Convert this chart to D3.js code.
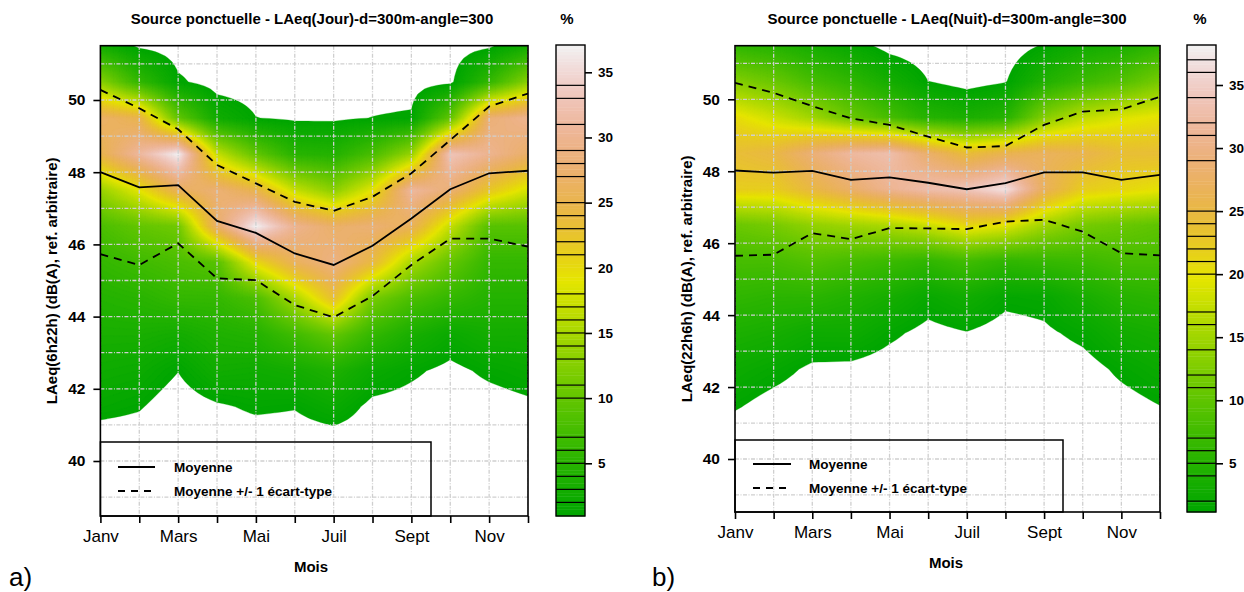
<!DOCTYPE html>
<html><head><meta charset="utf-8">
<script src="https://cdn.jsdelivr.net/npm/d3@7"></script>
<style>
body{margin:0;background:#fff;}
svg{display:block;}
text{font-family:"Liberation Sans", Arial, Helvetica, sans-serif;}
</style></head><body>
<svg id="chart" width="1244" height="592"></svg>
<script>
// ---------------- DATA ----------------
const moisNum = [1,2,3,4,5,6,7,8,9,10,11,12];
const moisLabels = ["Janv","","Mars","","Mai","","Juil","","Sept","","Nov",""];
const classesDB = [40.5,41.5,42.5,43.5,44.5,45.5,46.5,47.5,48.5,49.5,50.5,51.5];
const graduationsY = [40,42,44,46,48,50];
const grilleY = [39,40,41,42,43,44,45,46,47,48,49,50,51];
const graduationsCle = [5,10,15,20,25,30,35];

const moyenneJour   = [48.00,47.58,47.64,46.65,46.32,45.75,45.43,45.96,46.72,47.53,47.97,48.04];
const plusEcartJour = [50.28,49.77,49.19,48.20,47.69,47.18,46.93,47.32,47.97,48.89,49.82,50.18];
const moinsEcartJour= [45.73,45.43,46.03,45.06,45.01,44.32,43.98,44.57,45.43,46.16,46.16,45.94];

const moyenneNuit   = [48.02,47.96,48.01,47.76,47.83,47.68,47.50,47.67,47.97,47.97,47.76,47.90];
const plusEcartNuit = [50.46,50.18,49.81,49.47,49.29,48.96,48.66,48.70,49.29,49.66,49.72,50.07];
const moinsEcartNuit= [45.65,45.68,46.28,46.11,46.42,46.41,46.39,46.60,46.65,46.32,45.72,45.66];

// % per 1-dB class (classesDB), one row per month
const densiteJour = [
  [0,1.5,2.5,3.5,4.5,6,8,14,25,27,13,3],
  [0,1.1,2.2,3.5,5,7,10,19,31,25,6,0.6],
  [0,0,1.0,3,6,8,11,26,37,10,1.3,0],
  [0,0.7,2.8,4,6,9,27,28,17,2.75,0,0],
  [0,1.24,2.5,4.5,8,20,37,25,10,1.0,0,0],
  [0,1.05,3,7,15,26,30,17,5,0.6,0,0],
  [0,2.0,4,10,23,29,27,13,4.5,0.6,0,0],
  [0,0.5,2.1,6,11.5,24,28,19,8,1.0,0,0],
  [0,0.3,1.25,3.5,8,15,26,31,14,1.25,0,0],
  [0,0,0.5,2,6,10,17,28,33,10,0.5,0],
  [0,0.2,1.3,3,4.5,6,9,22,30,28,6,0.6],
  [0,0.6,1.8,3,4.5,6,9,18,27,30,13,3]
];
const densiteNuit = [
  [0,1.35,2.5,4,6,8,11,22,24,20.5,13,6],
  [0,0.5,1.8,3.5,5.5,8,12,22,25,18,11,5],
  [0,0,0.8,2.6,5.5,9,14,25,29,15,8,3.5],
  [0,0,0.7,2.7,4.5,8,15,28,32,11,6,2.0],
  [0,0,0.3,1.5,3.5,7,16,31,33,8,3.4,0.4],
  [0,0,0,0.6,2.0,6,18,33,28,5,1.15,0],
  [0,0,0,1.05,3,7.5,21,34,24,4,0.3,0],
  [0,0,0,0.4,1.6,6,19.5,37,26,5,1.0,0],
  [0,0,0,0.8,1.8,6.5,15,27,27,13,4.5,1.3],
  [0,0,0.4,1.6,3.5,7,12,22,26,17,7,3],
  [0,0.5,1.5,3,5,8,11,21,24,19,9,4],
  [0,1.15,2.3,3.5,5.5,8,10,20,24,20,12,6]
];
const traitsCleJour = [2,3,4,5,6,7,10,11,13,14,15,16,17,18,21,22,23,24,25,27,28,29,31,33,34];
const traitsCleNuit = [2,4,5,6,7,11,12,14,16,17,20,21,22,23,24,25,29,31,32,34,36,37];

const titres = ["Source ponctuelle - LAeq(Jour)-d=300m-angle=300","Source ponctuelle - LAeq(Nuit)-d=300m-angle=300"];
const titresY = ["LAeq(6h22h) (dB(A), ref. arbitraire)","LAeq(22h6h) (dB(A), ref. arbitraire)"];
const legendeTextes = ["Moyenne","Moyenne +/- 1 écart-type"];
const lettres = ["a)","b)"];

// ---------------- LAYOUT ----------------
const panels = [
  {x1:100.4,x12:528, y40:461, y50:100, top:45.7, bottom:516,
   cbX:556, cbW:29, cbTop:45, cbBot:516, cb5:463.3, cb35:72.3,
   titleX:312, pctX:567, ylabX:57, mois:[311,572], lettre:[9,586],
   leg:{right:431, top:442, lx0:118, lx1:155, ly:[467,491], tx:174},
   dens:densiteJour, moy:moyenneJour, plus:plusEcartJour, moins:moinsEcartJour,
   traits:traitsCleJour},
  {x1:735, x12:1160, y40:459, y50:99.3, top:45.7, bottom:512,
   cbX:1187, cbW:29, cbTop:45, cbBot:512, cb5:463.3, cb35:85,
   titleX:947, pctX:1200, ylabX:692, mois:[946,568], lettre:[652,586],
   leg:{right:1063, top:440, lx0:753, lx1:791, ly:[464,488], tx:809},
   dens:densiteNuit, moy:moyenneNuit, plus:plusEcartNuit, moins:moinsEcartNuit,
   traits:traitsCleNuit}
];

function hsv(h,s,v){
  const i=Math.floor(h*6), f=h*6-i, p=v*(1-s), q=v*(1-f*s), t=v*(1-(1-f)*s);
  let r,g,b;
  switch(((i%6)+6)%6){case 0:r=v;g=t;b=p;break;case 1:r=q;g=v;b=p;break;case 2:r=p;g=v;b=t;break;
    case 3:r=p;g=q;b=v;break;case 4:r=t;g=p;b=v;break;default:r=v;g=p;b=q;}
  return d3.rgb(r*255,g*255,b*255).formatHex();
}
function terrain(t){
  if(t<=0.5){const u=t/0.5;return hsv(4/12-2/12*u,1,0.65+0.25*u);}
  const u=(t-0.5)/0.5;return hsv(2/12*(1-u),1-u,0.9+0.05*u);
}

const svg = d3.select("#chart");
const NLEV = 144;
const F = 6;

panels.forEach((P,pi)=>{
  const g = svg.append("g");
  const xS = d3.scaleLinear().domain([1,12]).range([P.x1,P.x12]);
  const yS = d3.scaleLinear().domain([40,50]).range([P.y40,P.y50]);
  const cS = d3.scaleLinear().domain([5,35]).range([P.cb5,P.cb35]);
  const vmin = cS.invert(P.cbBot), vmax = cS.invert(P.cbTop);
  const step = (vmax-vmin)/NLEV;
  const thr = d3.range(NLEV).map(k=>vmin+k*step);
  const col = k=>terrain((k+0.5)/NLEV);

  const clipId = "clip"+pi;
  svg.append("clipPath").attr("id",clipId).append("rect")
    .attr("x",P.x1).attr("y",P.top).attr("width",P.x12-P.x1).attr("height",P.bottom-P.top);

  // bilinear grid for rendering
  const nm = moisNum.length, nb = classesDB.length;
  const nx=(nm-1)*F+1, ny=(nb-1)*F+1;
  const vals = new Array(nx*ny);
  for(let j=0;j<ny;j++){
    const bj=j/F, j0=Math.min(Math.floor(bj),nb-2), fy=bj-j0;
    for(let i=0;i<nx;i++){
      const mi=i/F, i0=Math.min(Math.floor(mi),nm-2), fx=mi-i0;
      const D=P.dens;
      vals[j*nx+i]=(1-fx)*(1-fy)*D[i0][j0]+fx*(1-fy)*D[i0+1][j0]+(1-fx)*fy*D[i0][j0+1]+fx*fy*D[i0+1][j0+1];
    }
  }
  const contours = d3.contours().size([nx,ny]).thresholds(thr)(vals);
  const proj = d3.geoTransform({point:function(x,y){
    this.stream.point(xS(moisNum[0]+(x-0.5)/F), yS(classesDB[0]+(y-0.5)/F));}});
  const path = d3.geoPath(proj);
  const fillG = g.append("g").attr("clip-path",`url(#${clipId})`);
  fillG.selectAll("path").data(contours).join("path")
    .attr("d",path).attr("fill",(d,k)=>col(k)).attr("stroke",(d,k)=>col(k)).attr("stroke-width",0.3);

  // grid
  const gridG = g.append("g").attr("clip-path",`url(#${clipId})`)
    .attr("stroke","#cfcfcf").attr("stroke-width",1.3).attr("stroke-dasharray","4,1.5,1,1.5");
  gridG.selectAll("line.v").data(moisNum).join("line").attr("class","v")
    .attr("x1",d=>xS(d)).attr("x2",d=>xS(d)).attr("y1",P.top).attr("y2",P.bottom);
  gridG.selectAll("line.h").data(grilleY).join("line").attr("class","h")
    .attr("x1",P.x1).attr("x2",P.x12).attr("y1",d=>yS(d)).attr("y2",d=>yS(d));

  // lines
  const line = d3.line().x((d,i)=>xS(moisNum[i])).y(d=>yS(d));
  const lG = g.append("g").attr("clip-path",`url(#${clipId})`).attr("fill","none").attr("stroke","#000");
  lG.append("path").attr("d",line(P.moy)).attr("stroke-width",1.8);
  lG.append("path").attr("d",line(P.plus)).attr("stroke-width",1.8).attr("stroke-dasharray","8,6");
  lG.append("path").attr("d",line(P.moins)).attr("stroke-width",1.8).attr("stroke-dasharray","8,6");

  // legend
  const L=P.leg;
  g.append("rect").attr("x",P.x1).attr("y",L.top).attr("width",L.right-P.x1).attr("height",P.bottom-L.top)
    .attr("fill","none").attr("stroke","#000").attr("stroke-width",1.5);
  [null,"7,6"].forEach((da,i)=>{
    g.append("line").attr("x1",L.lx0).attr("x2",L.lx1).attr("y1",L.ly[i]).attr("y2",L.ly[i])
      .attr("stroke","#000").attr("stroke-width",2).attr("stroke-dasharray",da);
    g.append("text").attr("x",L.tx).attr("y",L.ly[i]).attr("dy","0.36em")
      .attr("font-size",13.5).attr("font-weight","bold").text(legendeTextes[i]);
  });

  // border
  g.append("rect").attr("x",P.x1).attr("y",P.top).attr("width",P.x12-P.x1).attr("height",P.bottom-P.top)
    .attr("fill","none").attr("stroke","#000").attr("stroke-width",1.6);

  // axes
  const ax = g.append("g").attr("transform",`translate(0,${P.bottom})`)
    .call(d3.axisBottom(xS).tickValues(moisNum).tickFormat((d,i)=>moisLabels[i]).tickSize(7).tickPadding(7));
  ax.select(".domain").remove();
  ax.selectAll("line").attr("stroke-width",1.6);
  ax.selectAll("text").attr("font-size",17).attr("font-family","Liberation Sans, Arial, sans-serif").attr("fill","#000");
  const ay = g.append("g").attr("transform",`translate(${P.x1},0)`)
    .call(d3.axisLeft(yS).tickValues(graduationsY).tickSize(7).tickPadding(8));
  ay.select(".domain").remove();
  ay.selectAll("line").attr("stroke-width",1.6);
  ay.selectAll("text").attr("font-size",15.5).attr("font-weight","bold").attr("font-family","Liberation Sans, Arial, sans-serif").attr("fill","#000");

  // colorbar
  const cb = g.append("g");
  cb.selectAll("rect").data(thr).join("rect")
    .attr("x",P.cbX).attr("width",P.cbW)
    .attr("y",(d,k)=>cS(d+step)).attr("height",(d,k)=>cS(d)-cS(d+step)+0.4)
    .attr("fill",(d,k)=>col(k));
  cb.selectAll("line").data(P.traits).join("line")
    .attr("x1",P.cbX).attr("x2",P.cbX+P.cbW).attr("y1",d=>cS(d)).attr("y2",d=>cS(d))
    .attr("stroke","#000").attr("stroke-width",1.2);
  cb.append("rect").attr("x",P.cbX).attr("y",P.cbTop).attr("width",P.cbW).attr("height",P.cbBot-P.cbTop)
    .attr("fill","none").attr("stroke","#000").attr("stroke-width",1.4);
  const ac = g.append("g").attr("transform",`translate(${P.cbX+P.cbW},0)`)
    .call(d3.axisRight(cS).tickValues(graduationsCle).tickSize(7).tickPadding(6));
  ac.select(".domain").remove();
  ac.selectAll("line").attr("stroke-width",1.6);
  ac.selectAll("text").attr("font-size",13.5).attr("font-weight","bold").attr("font-family","Liberation Sans, Arial, sans-serif").attr("fill","#000");

  // texts
  g.append("text").attr("x",P.titleX).attr("y",24).attr("text-anchor","middle")
    .attr("font-size",15).attr("font-weight","bold").text(titres[pi]);
  g.append("text").attr("x",P.pctX).attr("y",24).attr("text-anchor","middle")
    .attr("font-size",15).attr("font-weight","bold").text("%");
  g.append("text").attr("transform",`translate(${P.ylabX},${(P.top+P.bottom)/2}) rotate(-90)`)
    .attr("text-anchor","middle").attr("font-size",15).attr("font-weight","bold").text(titresY[pi]);
  g.append("text").attr("x",P.mois[0]).attr("y",P.mois[1]).attr("text-anchor","middle")
    .attr("font-size",15).attr("font-weight","bold").text("Mois");
  g.append("text").attr("x",P.lettre[0]).attr("y",P.lettre[1])
    .attr("font-family","Liberation Serif, Times New Roman, serif").attr("font-size",26).text(lettres[pi]);
});
</script>
</body></html>
